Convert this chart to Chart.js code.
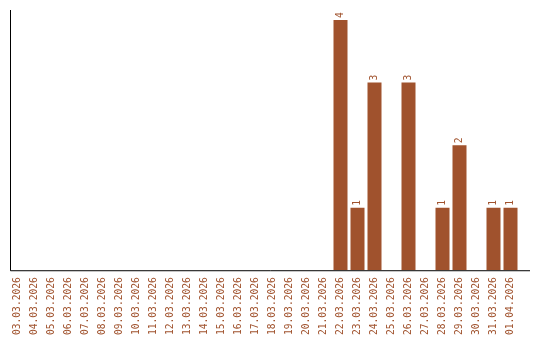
<!DOCTYPE html>
<html>
<head>
<meta charset="utf-8">
<script src="https://cdn.jsdelivr.net/npm/chart.js@4/dist/chart.umd.min.js"></script>
<style>
	html, body { margin: 0; padding: 0; background: #fff; }
	#wrap { width: 540px; height: 340px; position: relative; }
</style>
</head>
<body>
<div id="wrap"><canvas id="chart"></canvas></div>
<script>
const dates = [
	'03.03.2026', '04.03.2026', '05.03.2026', '06.03.2026', '07.03.2026', '08.03.2026',
	'09.03.2026', '10.03.2026', '11.03.2026', '12.03.2026', '13.03.2026', '14.03.2026',
	'15.03.2026', '16.03.2026', '17.03.2026', '18.03.2026', '19.03.2026', '20.03.2026',
	'21.03.2026', '22.03.2026', '23.03.2026', '24.03.2026', '25.03.2026', '26.03.2026',
	'27.03.2026', '28.03.2026', '29.03.2026', '30.03.2026', '31.03.2026', '01.04.2026'
];
const counts = [
	0, 0, 0, 0, 0, 0,
	0, 0, 0, 0, 0, 0,
	0, 0, 0, 0, 0, 0,
	0, 4, 1, 3, 0, 3,
	0, 1, 2, 0, 1, 1
];

const BAR_COLOR = '#a0522d';
const FONT = '"DejaVu Sans Mono", monospace';

// axis lines: left from top of plot, bottom runs a bit past the last bar
const axisLines = {
	id: 'axisLines',
	afterDraw(chart) {
		const { ctx, chartArea } = chart;
		ctx.save();
		ctx.strokeStyle = '#000';
		ctx.lineWidth = 1;
		ctx.beginPath();
		ctx.moveTo(10.5, chartArea.top);
		ctx.lineTo(10.5, chartArea.bottom + 0.5);
		ctx.lineTo(530, chartArea.bottom + 0.5);
		ctx.stroke();
		ctx.restore();
	}
};

// value labels rotated above each bar
const valueLabels = {
	id: 'valueLabels',
	afterDatasetsDraw(chart) {
		const { ctx } = chart;
		const meta = chart.getDatasetMeta(0);
		ctx.save();
		ctx.fillStyle = BAR_COLOR;
		ctx.font = '9.6px ' + FONT;
		ctx.textAlign = 'left';
		ctx.textBaseline = 'middle';
		meta.data.forEach((bar, i) => {
			if (!counts[i]) return;
			ctx.save();
			ctx.translate(bar.x, bar.y - 2);
			ctx.rotate(-Math.PI / 2);
			ctx.fillText(String(counts[i]), 0, 0);
			ctx.restore();
		});
		ctx.restore();
	}
};

new Chart(document.getElementById('chart'), {
	type: 'bar',
	data: {
		labels: dates,
		datasets: [{
			data: counts,
			backgroundColor: BAR_COLOR,
			barPercentage: 1,
			categoryPercentage: 14 / 17,
		}]
	},
	options: {
		responsive: true,
		maintainAspectRatio: false,
		animation: false,
		layout: { padding: { left: 9, right: 21, top: 10, bottom: -2 } },
		plugins: {
			legend: { display: false },
			tooltip: { enabled: false }
		},
		scales: {
			x: {
				grid: { display: false, drawTicks: false },
				border: { display: false },
				ticks: {
					color: BAR_COLOR,
					font: { family: FONT, size: 9.6 },
					minRotation: 90,
					maxRotation: 90,
					autoSkip: false,
					padding: 7
				}
			},
			y: {
				display: false,
				min: 0,
				max: 4.16
			}
		}
	},
	plugins: [axisLines, valueLabels]
});
</script>
</body>
</html>
